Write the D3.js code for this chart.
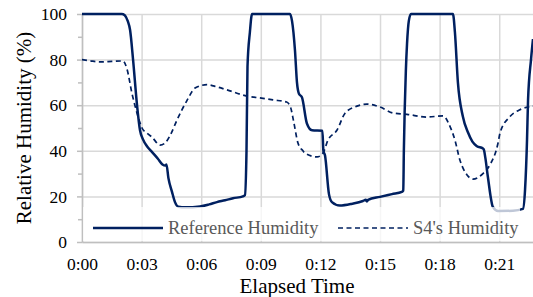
<!DOCTYPE html>
<html>
<head>
<meta charset="utf-8">
<script src="https://cdn.jsdelivr.net/npm/d3@7"></script>
<style>
  html, body { margin: 0; padding: 0; background: #fff; }
  svg { display: block; }
  svg text { font-family: "Liberation Serif", "Times New Roman", serif !important; }
</style>
</head>
<body>
<script>
// elapsed minutes and relative humidity (%)
const refTime = [0, 2.0, 2.15, 2.3, 2.42, 2.57, 2.77, 2.92, 3.07, 3.27, 3.52, 3.82, 4.05, 4.2, 4.25, 4.35, 4.53, 4.68, 4.85, 5.2, 5.94, 6.4, 6.79, 7.2, 7.6, 8.1, 8.2, 8.28, 8.33, 8.45, 8.56,
  10.47, 10.57, 10.72, 10.82, 10.92, 11.07, 11.32, 11.58, 12.1, 12.15, 12.23, 12.43, 12.58, 12.98, 13.6, 14.14, 14.28, 14.34, 14.4, 15.0, 15.6, 16.1, 16.17, 16.2, 16.3, 16.36, 16.45, 16.56,
  18.67, 18.77, 18.92, 19.17, 19.43, 19.65, 19.88, 20.18, 20.23, 20.3, 20.43, 20.68, 20.94, 21.69, 22.19, 22.3, 22.4, 22.45, 22.6, 22.7]
const refValue = [100, 100, 99.5, 97, 93, 80, 60, 49, 45, 42, 39.5, 36.5, 34, 33.5, 34, 28, 22, 17.5, 15.5, 15.2, 15.6, 16.5, 17.5, 18.3, 19.2, 20, 20.5, 40, 77, 92, 100,
  100, 97, 84, 70, 65, 63.5, 52, 49, 48.8, 40, 38, 21, 17.5, 16, 16.8, 18, 18.5, 17.8, 18.5, 19.8, 21, 22, 22.5, 40, 75, 87, 97, 100,
  100, 92, 70, 55, 48, 44, 42, 41, 40.4, 37, 28.5, 15.4, 13.6, 13.7, 14.5, 23, 45, 62, 80, 89]

const s4Time = [0, 0.4, 0.9, 1.5, 2.06, 2.26, 2.52, 2.77, 3.02, 3.3, 3.52, 3.93, 4.18, 4.45, 4.78, 5.28, 5.69, 6.29, 6.8, 7.3, 8.3, 9.11, 9.61, 10.3, 10.5, 10.65, 10.87, 11.12, 11.22, 11.83, 12.13, 12.38, 12.83, 13.24, 13.84, 14.34, 15.0, 15.65, 16.36, 17.36, 18.17, 18.3, 18.42, 18.77, 19.02, 19.38, 19.68, 20.18, 20.53, 20.94, 21.04, 21.54, 22.04, 22.7]
const s4Value = [80, 79.5, 79, 79.2, 79.4, 76, 65, 56.5, 50, 47.5, 46, 42.5, 43.4, 47, 53.5, 62, 67.5, 69, 68, 66.7, 64, 63, 62.3, 61.4, 59, 53, 43.4, 40, 39, 37.3, 39, 44.7, 49, 56.5, 59.6, 60.5, 59.2, 56.6, 56, 54.8, 55.3, 54.5, 52.6, 44.7, 36, 29.4, 27.6, 30, 33.8, 43.4, 47.8, 55, 58, 59.6]

const xTicks = [0, 3, 6, 9, 12, 15, 18, 21]
const yTicks = [0, 20, 40, 60, 80, 100]
const yMinorTicks = [10, 30, 50, 70, 90]
const seriesNames = ['Reference Humidity', "S4's Humidity"]

const w = 533
const h = 297
const plotLeft = 82
const plotRight = 533
const plotTop = 14
const plotBottom = 242
const navy = '#002060'
const serif = '"Liberation Serif", "Times New Roman", serif'

const svg = d3.select('body').append('svg')
    .attr('width', w)
    .attr('height', h)

const x = d3.scaleLinear().domain([0, 22.7]).range([plotLeft, plotRight])
const y = d3.scaleLinear().domain([0, 100]).range([plotBottom, plotTop])

const fmt = m => `0:${String(m).padStart(2, '0')}`

// gridlines
svg.append('g')
    .attr('transform', `translate(0, ${plotBottom})`)
    .call(d3.axisBottom(x).tickValues(xTicks).tickSize(-(plotBottom - plotTop)).tickFormat(''))
    .call(g => g.select('.domain').remove())
    .call(g => g.selectAll('line').attr('stroke', '#d9d9d9').attr('stroke-width', 1.5))

svg.append('g')
    .attr('transform', `translate(${plotLeft}, 0)`)
    .call(d3.axisLeft(y).tickValues(yTicks).tickSize(-(plotRight - plotLeft)).tickFormat(''))
    .call(g => g.select('.domain').remove())
    .call(g => g.selectAll('line').attr('stroke', '#d9d9d9').attr('stroke-width', 1.5))

// y axis with major and minor ticks
svg.append('g')
    .attr('transform', `translate(${plotLeft}, 0)`)
    .call(d3.axisLeft(y).tickValues(yTicks).tickSize(5).tickPadding(10).tickSizeOuter(0))
    .attr('font-family', serif)
    .attr('font-size', 17.5)
    .call(g => g.select('.domain').attr('stroke', '#bfbfbf').attr('stroke-width', 1.5))
    .call(g => g.selectAll('line').attr('stroke', '#bfbfbf').attr('stroke-width', 1.5))
    .call(g => g.selectAll('text').attr('fill', '#000'))

svg.append('g')
    .attr('transform', `translate(${plotLeft}, 0)`)
    .call(d3.axisLeft(y).tickValues(yMinorTicks).tickSize(4).tickFormat(''))
    .call(g => g.select('.domain').remove())
    .call(g => g.selectAll('line').attr('stroke', '#bfbfbf').attr('stroke-width', 1.5))

// x axis
svg.append('g')
    .attr('transform', `translate(0, ${plotBottom})`)
    .call(d3.axisBottom(x).tickValues(xTicks).tickSize(0).tickPadding(16).tickFormat(fmt).tickSizeOuter(0))
    .attr('font-family', serif)
    .attr('font-size', 17.5)
    .call(g => g.select('.domain').attr('stroke', '#bfbfbf').attr('stroke-width', 1.5))
    .call(g => g.selectAll('text').attr('fill', '#000'))

// lines
svg.append('clipPath').attr('id', 'plot')
    .append('rect').attr('x', plotLeft).attr('y', 0).attr('width', plotRight - plotLeft).attr('height', plotBottom)

const line = d3.line().curve(d3.curveMonotoneX)
const refPts = refTime.map((t, i) => [x(t), y(refValue[i])])
const s4Pts = s4Time.map((t, i) => [x(t), y(s4Value[i])])

svg.append('path')
    .attr('clip-path', 'url(#plot)')
    .attr('d', line(s4Pts))
    .attr('fill', 'none')
    .attr('stroke', navy)
    .attr('stroke-width', 1.7)
    .attr('stroke-dasharray', '5,3.5')

svg.append('path')
    .attr('clip-path', 'url(#plot)')
    .attr('d', line(refPts))
    .attr('fill', 'none')
    .attr('stroke', navy)
    .attr('stroke-width', 2.5)
    .attr('stroke-linejoin', 'round')

// legend
const legend = svg.append('g')
legend.append('rect')
    .attr('x', plotLeft + 1).attr('y', 207)
    .attr('width', 437).attr('height', 34)
    .attr('fill', '#fff').attr('opacity', 0.75)

const items = [
    {name: seriesNames[0], x0: 93, dash: null, width: 2.5},
    {name: seriesNames[1], x0: 338, dash: '5,3.5', width: 1.7}
]
items.forEach(d => {
    legend.append('line')
        .attr('x1', d.x0).attr('x2', d.x0 + 70)
        .attr('y1', 228).attr('y2', 228)
        .attr('stroke', navy)
        .attr('stroke-width', d.width)
        .attr('stroke-dasharray', d.dash)
    legend.append('text')
        .attr('x', d.x0 + 75)
        .attr('y', 234)
        .attr('font-size', 18.5)
        .attr('fill', '#595959')
        .text(d.name)
})

// axis titles
svg.append('text')
    .attr('x', 297)
    .attr('y', 293)
    .attr('text-anchor', 'middle')
    .attr('font-size', 21)
    .text('Elapsed Time')

svg.append('text')
    .attr('transform', `translate(31, 128) rotate(-90)`)
    .attr('text-anchor', 'middle')
    .attr('font-size', 21)
    .text('Relative Humidity (%)')
</script>
</body>
</html>
